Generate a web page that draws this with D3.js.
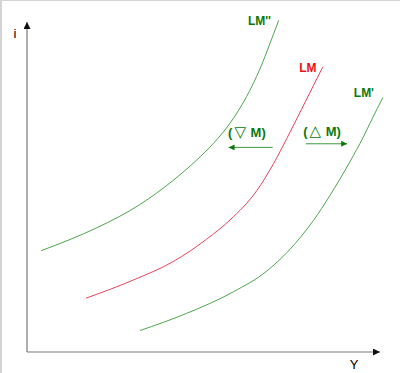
<!DOCTYPE html>
<html>
<head>
<meta charset="utf-8">
<script src="https://cdn.jsdelivr.net/npm/d3@7"></script>
<style>
  body { margin: 0; background: #fff; }
  svg { display: block; }
  .lbl { font-family: "Liberation Sans", Arial, sans-serif; font-weight: bold; font-size: 12px; }
  .shift { font-family: "Liberation Sans", Arial, sans-serif; font-weight: bold; font-size: 13px; }
  .axlbl { font-family: "Liberation Sans", Arial, sans-serif; font-size: 13px; fill: #000; }
</style>
</head>
<body>
<div id="chart"></div>
<script>
// curves, in (Y, i) units
var lm2 = [[4.0, 30.7], [12.2, 34.1], [19.7, 37.6], [32.0, 44.7], [41.4, 52.0], [48.1, 58.2],
           [52.8, 63.2], [57.5, 69.3], [62.2, 77.4], [66.0, 85.8], [68.8, 93.4], [71.3, 100.5]];
var lm0 = [[16.7, 16.3], [30.1, 21.8], [41.4, 27.4], [50.9, 34.2], [57.5, 40.0], [65.1, 48.9],
           [69.8, 57.0], [73.6, 64.7], [77.8, 73.6], [83.8, 86.4]];
var lm1 = [[32.0, 6.5], [45.2, 11.7], [58.4, 18.2], [67.9, 24.5], [77.1, 34.3], [81.1, 39.8],
           [85.8, 47.4], [91.5, 57.7], [95.3, 65.2], [97.7, 70.5], [100.8, 77.1]];

var curveNames = ["LM''", "LM", "LM'"];
var curveData = [lm2, lm0, lm1];
var curveColors = ["#4ea64e", "#e8435a", "#4ea64e"];
var labelColors = ["#0b7a0b", "#ee1111", "#0b7a0b"];
var labelAt = [[69.1, 99.1], [82.0, 84.8], [98.3, 77.3]];

// shift arrows: from, to
var shiftSymbols = ["\u25BD", "\u25B3"];
var shiftArrows = [[[69.6, 62.0], [57.1, 62.0]], [[79.0, 63.1], [90.7, 63.1]]];
var shiftTextAt = [[62.3, 65.2], [83.6, 65.5]];

var width = 400, height = 373;

var x = d3.scaleLinear().domain([0, 100]).range([27, 380]),
    y = d3.scaleLinear().domain([0, 100]).range([352, 22]);

var svg = d3.select("#chart").append("svg")
    .attr("width", width)
    .attr("height", height);

var defs = svg.append("defs");
defs.append("marker")
    .attr("id", "axhead")
    .attr("viewBox", "0 0 10 10")
    .attr("refX", 10).attr("refY", 5)
    .attr("markerWidth", 7).attr("markerHeight", 7)
    .attr("markerUnits", "userSpaceOnUse")
    .attr("orient", "auto")
    .append("path").attr("d", "M0,0L10,5L0,10Z").attr("fill", "#111");
defs.append("marker")
    .attr("id", "grhead")
    .attr("viewBox", "0 0 10 10")
    .attr("refX", 10).attr("refY", 5)
    .attr("markerWidth", 7).attr("markerHeight", 6)
    .attr("markerUnits", "userSpaceOnUse")
    .attr("orient", "auto")
    .append("path").attr("d", "M0,0L10,5L0,10Z").attr("fill", "#0b7a0b");

// frame edges (top and left only)
svg.append("line").attr("x1", 0).attr("x2", width).attr("y1", 0.5).attr("y2", 0.5)
   .attr("stroke", "#d4d4d4").attr("stroke-width", 1);
svg.append("line").attr("x1", 1).attr("x2", 1).attr("y1", 0).attr("y2", height)
   .attr("stroke", "#d4d4d4").attr("stroke-width", 2);

// axes
svg.append("line")
   .attr("x1", x(0)).attr("y1", y(0))
   .attr("x2", x(0)).attr("y2", y(100))
   .attr("stroke", "#7a7a7a").attr("stroke-width", 1.2)
   .attr("marker-end", "url(#axhead)");
svg.append("line")
   .attr("x1", x(0)).attr("y1", y(0))
   .attr("x2", x(100)).attr("y2", y(0))
   .attr("stroke", "#7a7a7a").attr("stroke-width", 1.2)
   .attr("marker-end", "url(#axhead)");

svg.append("text").attr("class", "axlbl")
   .attr("x", 15).attr("y", 38).attr("text-anchor", "middle").text("i");
svg.append("text").attr("class", "axlbl")
   .attr("x", 354).attr("y", 369).attr("text-anchor", "middle").text("Y");

// curves
var line = d3.line()
    .x(function(d) { return x(d[0]); })
    .y(function(d) { return y(d[1]); })
    .curve(d3.curveMonotoneX);

svg.append("g").selectAll("path")
   .data(curveData).enter()
   .append("path")
   .attr("d", line)
   .attr("fill", "none")
   .attr("stroke", function(d, i) { return curveColors[i]; })
   .attr("stroke-width", 1);

svg.append("g").selectAll("text")
   .data(curveNames).enter()
   .append("text")
   .attr("class", "lbl")
   .attr("x", function(d, i) { return x(labelAt[i][0]); })
   .attr("y", function(d, i) { return y(labelAt[i][1]); })
   .attr("text-anchor", "end")
   .attr("fill", function(d, i) { return labelColors[i]; })
   .text(function(d) { return d; });

// shift arrows
svg.append("g").selectAll("line")
   .data(shiftArrows).enter()
   .append("line")
   .attr("x1", function(d) { return x(d[0][0]); })
   .attr("y1", function(d) { return y(d[0][1]); })
   .attr("x2", function(d) { return x(d[1][0]); })
   .attr("y2", function(d) { return y(d[1][1]); })
   .attr("stroke", "#3f9a3f").attr("stroke-width", 1)
   .attr("marker-end", "url(#grhead)");

var st = svg.append("g").selectAll("text")
   .data(shiftSymbols).enter()
   .append("text")
   .attr("class", "shift")
   .attr("x", function(d, i) { return x(shiftTextAt[i][0]); })
   .attr("y", function(d, i) { return y(shiftTextAt[i][1]); })
   .attr("text-anchor", "middle")
   .attr("fill", "#0b7a0b");
st.append("tspan").text("(");
st.append("tspan").attr("font-family", "DejaVu Sans").attr("font-weight", "normal")
  .attr("font-size", "15px").attr("dx", 2).text(function(d) { return d; });
st.append("tspan").attr("dx", 1).text(" M)");
</script>
</body>
</html>
